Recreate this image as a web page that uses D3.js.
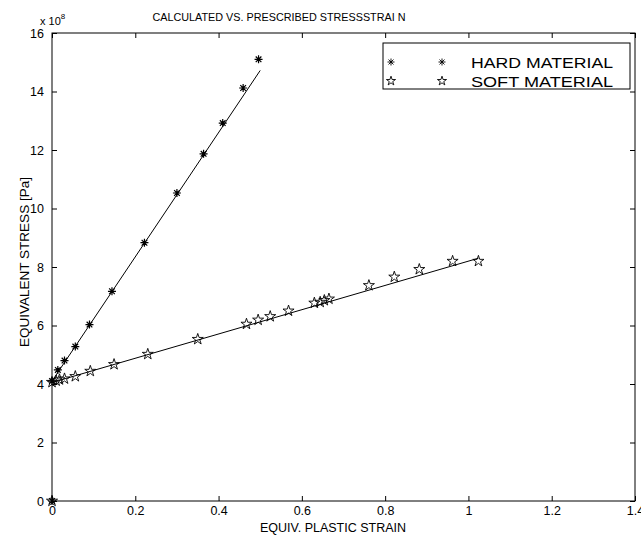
<!DOCTYPE html>
<html>
<head>
<meta charset="utf-8">
<script src="https://cdn.jsdelivr.net/npm/d3@7"></script>
<style>
  html, body { margin: 0; padding: 0; background: #fff; }
  svg { display: block; font-family: "Liberation Sans", Arial, Helvetica, sans-serif; }
</style>
</head>
<body>
<svg id="chart" width="641" height="535"></svg>
<script>
// ---- data (stress in units of 1e8 Pa) ----
const hardStrain = [0, 0, 0.014, 0.030, 0.056, 0.090, 0.144, 0.222, 0.300, 0.364, 0.410, 0.459, 0.496];
const hardStress = [0, 4.10, 4.48, 4.80, 5.28, 6.03, 7.17, 8.83, 10.53, 11.87, 12.92, 14.12, 15.10];
const softStrain = [0, 0, 0.010, 0.018, 0.030, 0.056, 0.092, 0.149, 0.230, 0.350, 0.467, 0.495, 0.524, 0.568, 0.630, 0.644, 0.654, 0.665, 0.761, 0.822, 0.882, 0.962, 1.024];
const softStress = [0, 4.06, 4.11, 4.15, 4.18, 4.26, 4.44, 4.67, 5.02, 5.53, 6.05, 6.19, 6.31, 6.50, 6.77, 6.80, 6.86, 6.91, 7.37, 7.66, 7.92, 8.20, 8.20];
const hardFitStrain = [0, 0.5];
const hardFitStress = [4.10, 14.72];
const softFitStrain = [0, 1.024];
const softFitStress = [4.05, 8.30];
const xTicks = [0, 0.2, 0.4, 0.6, 0.8, 1, 1.2, 1.4];
const yTicks = [0, 2, 4, 6, 8, 10, 12, 14, 16];
const legendLabels = ["HARD MATERIAL", "SOFT MATERIAL"];
const titleText = "CALCULATED VS. PRESCRIBED STRESSSTRAI N";
const xLabel = "EQUIV. PLASTIC STRAIN";
const yLabel = "EQUIVALENT STRESS [Pa]";

const svg = d3.select("#chart");
const L = 52, R = 635, T = 33, B = 501;
const x = d3.scaleLinear().domain([0, 1.4]).range([L, R]);
const y = d3.scaleLinear().domain([0, 16]).range([B, T]);

// axes with inward ticks
const fmt = d => d3.format("~g")(d);
svg.append("g").attr("transform", `translate(0,${B})`)
  .call(d3.axisBottom(x).tickValues(xTicks).tickFormat(fmt).tickSizeInner(-5).tickSizeOuter(0).tickPadding(5))
  .call(g => { g.select(".domain").remove(); g.selectAll("text").attr("font-size", 12.5).attr("fill", "#000"); });
svg.append("g").attr("transform", `translate(${L},0)`)
  .call(d3.axisLeft(y).tickValues(yTicks).tickFormat(fmt).tickSizeInner(-5).tickSizeOuter(0).tickPadding(8))
  .call(g => { g.select(".domain").remove(); g.selectAll("text").attr("font-size", 12.5).attr("fill", "#000"); });
svg.append("g").attr("transform", `translate(0,${T})`)
  .call(d3.axisTop(x).tickValues(xTicks).tickFormat("").tickSizeInner(-5).tickSizeOuter(0))
  .call(g => g.select(".domain").remove());
svg.append("g").attr("transform", `translate(${R},0)`)
  .call(d3.axisRight(y).tickValues(yTicks).tickFormat("").tickSizeInner(-5).tickSizeOuter(0))
  .call(g => g.select(".domain").remove());

svg.append("rect").attr("x", L).attr("y", T).attr("width", R - L).attr("height", B - T)
  .attr("fill", "none").attr("stroke", "#000").attr("stroke-width", 1);

// exponent label
const ex = svg.append("text").attr("x", 40).attr("y", 25).attr("font-size", 11).attr("fill", "#000");
ex.append("tspan").text("x 10");
ex.append("tspan").attr("dy", -6).attr("font-size", 8).text("8");

// title & labels
svg.append("text").attr("x", 279).attr("y", 21).attr("text-anchor", "middle")
  .attr("font-size", 10.8).attr("fill", "#000").text(titleText);
svg.append("text").attr("x", 333).attr("y", 532).attr("text-anchor", "middle")
  .attr("font-size", 12.5).attr("fill", "#000").text(xLabel);
svg.append("text").attr("transform", "translate(29,262) rotate(-90)").attr("text-anchor", "middle")
  .attr("font-size", 13.5).attr("fill", "#000").text(yLabel);

// fit lines
const line = d3.line().x(d => x(d[0])).y(d => y(d[1]));
const hardFit = hardFitStrain.map((v, i) => [v, hardFitStress[i]]);
const softFit = softFitStrain.map((v, i) => [v, softFitStress[i]]);
svg.append("path").datum(hardFit).attr("d", line).attr("fill", "none").attr("stroke", "#000").attr("stroke-width", 1);
svg.append("path").datum(softFit).attr("d", line).attr("fill", "none").attr("stroke", "#000").attr("stroke-width", 1);

// marker shapes
const asterisk = {
  draw(ctx, size) {
    const r = Math.sqrt(size) / 2;
    const d = r * Math.SQRT1_2;
    ctx.moveTo(-r, 0); ctx.lineTo(r, 0);
    ctx.moveTo(0, -r); ctx.lineTo(0, r);
    ctx.moveTo(-d, -d); ctx.lineTo(d, d);
    ctx.moveTo(-d, d); ctx.lineTo(d, -d);
  }
};
const astPath = d3.symbol().type(asterisk).size(64)();
const starPath = d3.symbol().type(d3.symbolStar).size(38)();

const hardPts = hardStrain.map((v, i) => [v, hardStress[i]]);
const softPts = softStrain.map((v, i) => [v, softStress[i]]);

svg.append("g").selectAll("path").data(softPts).join("path")
  .attr("d", starPath).attr("transform", d => `translate(${x(d[0])},${y(d[1])})`)
  .attr("fill", "none").attr("stroke", "#000").attr("stroke-width", 0.9);
svg.append("g").selectAll("path").data(hardPts).join("path")
  .attr("d", astPath).attr("transform", d => `translate(${x(d[0])},${y(d[1])})`)
  .attr("fill", "none").attr("stroke", "#000").attr("stroke-width", 1.2);

// legend
const lg = svg.append("g");
lg.append("rect").attr("x", 383).attr("y", 43).attr("width", 247).attr("height", 46)
  .attr("fill", "#fff").attr("stroke", "#000").attr("stroke-width", 1);
const rows = [62, 81];
legendLabels.forEach((lab, i) => {
  const p = i === 0 ? d3.symbol().type(asterisk).size(49)() : d3.symbol().type(d3.symbolStar).size(26)();
  [391, 442].forEach(mx => {
    lg.append("path").attr("d", p).attr("transform", `translate(${mx},${rows[i]})`)
      .attr("fill", "none").attr("stroke", "#000").attr("stroke-width", 0.9);
  });
  lg.append("text").attr("x", 471).attr("y", rows[i] + 5.5).attr("font-size", 14.5)
    .attr("textLength", 142).attr("lengthAdjust", "spacingAndGlyphs")
    .attr("fill", "#000").text(lab);
});
</script>
</body>
</html>
